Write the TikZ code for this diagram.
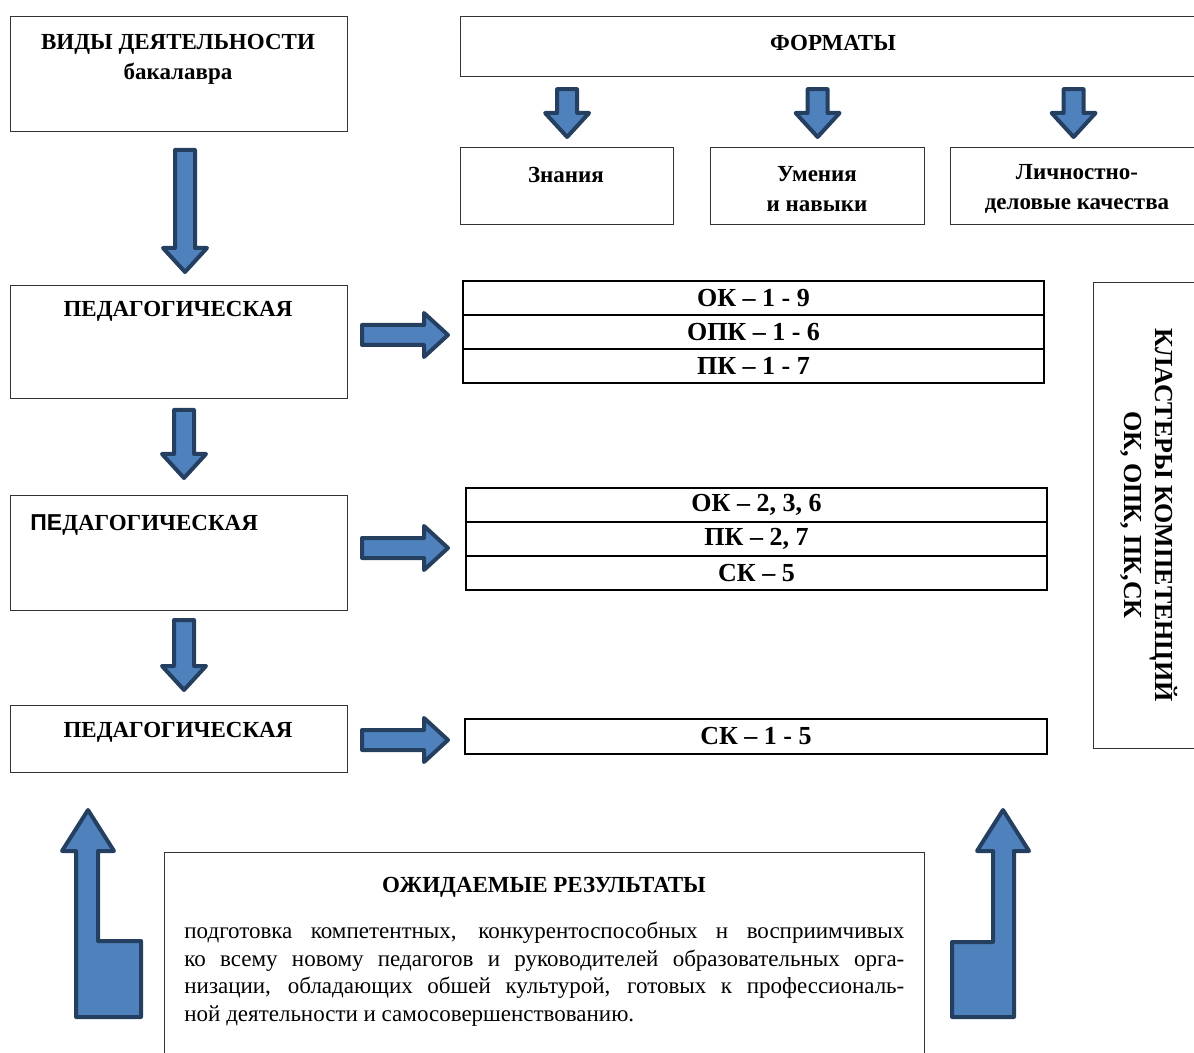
\documentclass[tikz,border=0pt]{standalone}
\usepackage{fontspec}
\setmainfont{Liberation Serif}
\newfontfamily\sansbold{Liberation Sans}
\usetikzlibrary{positioning,calc}
\newlength{\px}\setlength{\px}{0.5pt}
\definecolor{arrfill}{HTML}{4F81BD}
\definecolor{arrline}{HTML}{243F60}

% block arrows: from (#1) to the tip (#2)
\newcommand{\vblock}[2]{%
  \draw[blockarr] ($(#1)+(-10,0)$) -- ($(#1)+(10,0)$) -- ($(#2)+(10,-24)$) -- ($(#2)+(22,-24)$)
    -- (#2) -- ($(#2)+(-22,-24)$) -- ($(#2)+(-10,-24)$) -- cycle;}
\newcommand{\hblock}[2]{%
  \draw[blockarr] ($(#1)+(0,-10)$) -- ($(#2)+(-24,-10)$) -- ($(#2)+(-24,-22)$)
    -- (#2) -- ($(#2)+(-24,22)$) -- ($(#2)+(-24,10)$) -- ($(#1)+(0,10)$) -- cycle;}

\begin{document}
\begin{tikzpicture}[x=1\px,y=-1\px,
  box/.style={draw=black!80, line width=0.6pt, inner sep=0pt, anchor=north west},
  cell/.style={draw, line width=1.1pt, inner sep=0pt, outer sep=0pt, minimum width=581\px, minimum height=34\px,
    font=\bfseries\fontsize{13}{15}\selectfont},
  title/.style={font=\bfseries\fontsize{11.5}{15}\selectfont, align=center, inner sep=0pt},
  blockarr/.style={fill=arrfill, draw=arrline, line width=2pt, line join=round}]
\useasboundingbox (0,0) rectangle (1194,1053);
\clip (0,0) rectangle (1194,1053);
%
\node[box, minimum width=337\px, minimum height=115\px] (vid) at (10,16) {};
\node[title] (vidt) at (178,59) {ВИДЫ ДЕЯТЕЛЬНОСТИ\\бакалавра};
\node[box, minimum width=736\px, minimum height=60\px] (fmt) at (460,16) {};
\node[title] (fmtt) at (833,43) {ФОРМАТЫ};
\node[box, minimum width=213\px, minimum height=77\px] (zn) at (460,147) {};
\node[box, minimum width=214\px, minimum height=77\px] (um) at (710,147) {};
\node[box, minimum width=246\px, minimum height=77\px] (lk) at (950,147) {};
\node[title] (znt) at (566,175) {Знания};
\node[title] (umt) at (817,189) {Умения\\и навыки};
\node[title] (lkt) at (1077,189) {Личностно-\\деловые качества};
\foreach \n in {zn,um,lk} {
  \coordinate (\n-s) at ($(fmt.south -| \n.north)+(0,12)$);
  \coordinate (\n-e) at ($(\n.north)+(0,-10)$);
  \vblock{\n-s}{\n-e}
}
%
\node[box, minimum width=337\px, minimum height=113\px] (ped1) at (10,285) {};
\node[title] (ped1t) at (178,311) {ПЕДАГОГИЧЕСКАЯ};
\node[box, minimum width=337\px, minimum height=115\px] (ped2) at (10,495) {};
\node[title, anchor=west] (ped2t) at (30,525) {{\sansbold ПЕ}ДАГОГИЧЕСКАЯ};
\node[box, minimum width=337\px, minimum height=67\px] (ped3) at (10,705) {};
\node[title] (ped3t) at (178,732) {ПЕДАГОГИЧЕСКАЯ};
%
\coordinate (d1-s) at (185,150); \coordinate (d1-e) at (185,272);
\coordinate (d2-s) at (184,410); \coordinate (d2-e) at (184,478);
\coordinate (d3-s) at (184,620); \coordinate (d3-e) at (184,690);
\vblock{d1-s}{d1-e}
\vblock{d2-s}{d2-e}
\vblock{d3-s}{d3-e}
%
\node[cell, anchor=north west] (ok1) at (463,281) {ОК -- 1 - 9};
\node[cell, below=0pt of ok1] (ok2) {ОПК -- 1 - 6};
\node[cell, below=0pt of ok2] (ok3) {ПК -- 1 - 7};
\node[cell, anchor=north west] (sk1) at (466,488) {ОК -- 2, 3, 6};
\node[cell, below=0pt of sk1] (sk2) {ПК -- 2, 7};
\node[cell, below=0pt of sk2] (sk3) {СК -- 5};
\node[cell, anchor=north west, minimum width=582\px, minimum height=35\px] (sk) at (465,719) {СК -- 1 - 5};
%
\coordinate (r1-s) at (362,335); \coordinate (r1-e) at (448,335);
\coordinate (r2-s) at (362,548); \coordinate (r2-e) at (448,548);
\coordinate (r3-s) at (362,740); \coordinate (r3-e) at (448,740);
\hblock{r1-s}{r1-e}
\hblock{r2-s}{r2-e}
\hblock{r3-s}{r3-e}
%
\node[box, minimum width=103\px, minimum height=466\px] (kl) at (1093,282) {};
\node[title, rotate=-90, font=\bfseries\fontsize{13}{15.5}\selectfont] (klt) at (1149,515)
  {КЛАСТЕРЫ КОМПЕТЕНЦИЙ\\ОК, ОПК, ПК,СК};
%
\node[box, minimum width=760\px, minimum height=210\px] (res) at (164,852) {};
\node[title] (rest) at (544,887) {ОЖИДАЕМЫЕ РЕЗУЛЬТАТЫ};
\node[anchor=north west, inner sep=0pt, text width=720\px, align=justify,
  font=\fontsize{11.5}{13.75}\selectfont] (resb) at (184,922)
  {\tolerance=10000 подготовка компетентных, конкурентоспособных н восприимчивых\linebreak
   ко всему новому педагогов и руководителей образовательных орга-\linebreak
   низации, обладающих обшей культурой, готовых к профессиональ-\linebreak
   ной деятельности и самосовершенствованию.};
%
\draw[blockarr] (88,810) -- (114,851) -- (98,851) -- (98,941) -- (141,941) -- (141,1017)
  -- (76,1017) -- (76,851) -- (62,851) -- cycle;
\draw[blockarr] (1003,810) -- (1029,851) -- (1014,851) -- (1014,1017) -- (952,1017)
  -- (952,942) -- (993,942) -- (993,851) -- (977,851) -- cycle;
\end{tikzpicture}
\end{document}
